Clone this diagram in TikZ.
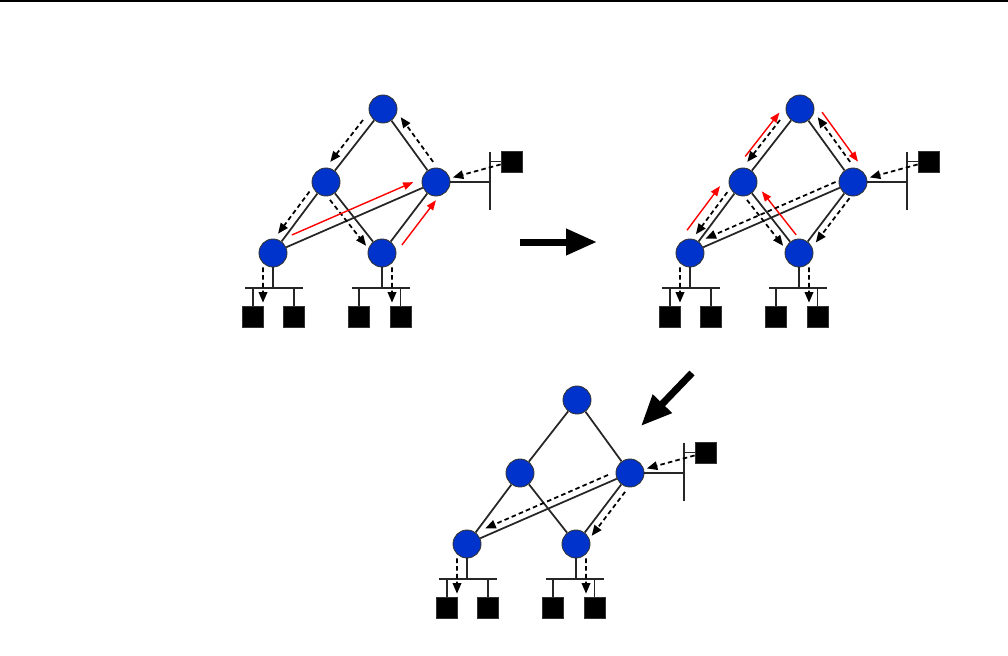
\documentclass[tikz,border=0pt]{standalone}
\usetikzlibrary{arrows.meta,calc}

\definecolor{routerblue}{RGB}{0,51,204}

\tikzset{
  router/.style={circle, draw=black!80, line width=0.5pt, fill=routerblue, minimum size=0.56cm, inner sep=0pt},
  host/.style={rectangle, draw=black!80, fill=black, minimum size=0.42cm, inner sep=0pt},
  link/.style={line width=1pt, draw=black!85},
  bus/.style={line width=1pt, draw=black!85},
  msg/.style={line width=1pt, dash pattern=on 2.6pt off 1.8pt, -{Triangle[length=2.1mm,width=1.7mm]}},
  redmsg/.style={line width=0.8pt, red, -{Triangle[length=2mm,width=1.5mm]}},
  beside/.style={to path={($(\tikztostart)!#1!-90:(\tikztotarget)$) -- ($(\tikztotarget)!#1!90:(\tikztostart)$)}},
  bigarrow/.style={line width=0.14cm, -{Triangle[length=0.62cm,width=0.5cm]}},
}

% one network: five routers, three LANs
\newcommand{\netpanel}[3]{%
\begin{scope}[shift={(#2,#3)}]
\node[router] (#1-top) at (383,109) {};
\node[router] (#1-ml) at (326,182) {};
\node[router] (#1-mr) at (436,182) {};
\node[router] (#1-bl) at (273,253) {};
\node[router] (#1-br) at (382,253) {};
\node[host] (#1-src) at (511.5,161.5) {};
\node[host] (#1-h1) at (253,316.5) {};
\node[host] (#1-h2) at (294,316.5) {};
\node[host] (#1-h3) at (359,316.5) {};
\node[host] (#1-h4) at (400.5,316.5) {};
\draw[link] (#1-top) -- (#1-ml);
\draw[link] (#1-top) -- (#1-mr);
\draw[link] (#1-ml) -- (#1-bl);
\draw[link] (#1-ml) -- (#1-br);
\draw[link] (#1-mr) -- (#1-bl);
\draw[link] (#1-mr) -- (#1-br);
% LANs
\coordinate (#1-tap) at (490,182);
\coordinate (#1-tapl) at (273,288);
\coordinate (#1-tapr) at (382,288);
\draw[bus] (490,152) -- (490,210);
\draw[bus] (245,288) -- (303,288);
\draw[bus] (352,288) -- (410,288);
\draw[link] (#1-mr) -- (#1-tap);
\draw[link] (#1-bl) -- (#1-tapl);
\draw[link] (#1-br) -- (#1-tapr);
\draw[bus] (#1-src.west) -- (#1-src.west -| #1-tap);
\foreach \h in {h1,h2,h3,h4} \draw[bus] (#1-\h) -- (#1-\h |- #1-tapl);
% source and receivers
\draw[msg, shorten >=0.06cm] (#1-src) -- (#1-mr);
\draw[msg, shorten >=0.06cm] ([xshift=-0.2cm]#1-bl.south) -- ([xshift=0.2cm]#1-h1.north);
\draw[msg, shorten >=0.06cm] ([xshift=0.2cm]#1-br.south) -- ([xshift=-0.17cm]#1-h4.north);
\end{scope}}

\begin{document}
\begin{tikzpicture}[x=0.02cm, y=-0.02cm]
\useasboundingbox (0,0) rectangle (1008,656);

\draw[line width=0.03cm] (0,0.75) -- (1008,0.75);

\netpanel{a}{0}{0}
\netpanel{b}{417}{0}
\netpanel{c}{194}{291}

% first state
\draw[msg, shorten <=0.42cm, shorten >=0.37cm] (a-top) to[beside=0.18cm] (a-ml);
\draw[msg, shorten <=0.36cm, shorten >=0.34cm] (a-mr) to[beside=0.19cm] (a-top);
\draw[msg, shorten <=0.35cm, shorten >=0.37cm] (a-ml) to[beside=0.15cm] (a-bl);
\draw[msg, shorten <=0.33cm, shorten >=0.31cm] (a-ml) to[beside=0.16cm] (a-br);
\draw[redmsg, shorten <=0.49cm, shorten >=0.42cm] (a-bl) to[beside=-0.18cm] (a-mr);
\draw[redmsg, shorten <=0.37cm, shorten >=0.29cm] (a-br) to[beside=0.22cm] (a-mr);

% second state
\draw[redmsg, shorten <=0.33cm, shorten >=0.34cm] (b-bl) to[beside=-0.32cm] (b-ml);
\draw[redmsg, shorten <=0.43cm, shorten >=0.31cm] (b-ml) to[beside=-0.28cm] (b-top);
\draw[redmsg, shorten <=0.31cm, shorten >=0.27cm] (b-top) to[beside=-0.32cm] (b-mr);
\draw[redmsg, shorten <=0.32cm, shorten >=0.38cm] (b-br) to[beside=0.18cm] (b-ml);
\draw[msg, shorten <=0.42cm, shorten >=0.37cm] (b-top) to[beside=0.18cm] (b-ml);
\draw[msg, shorten <=0.36cm, shorten >=0.34cm] (b-mr) to[beside=0.19cm] (b-top);
\draw[msg, shorten <=0.35cm, shorten >=0.37cm] (b-ml) to[beside=0.13cm] (b-bl);
\draw[msg, shorten <=0.33cm, shorten >=0.31cm] (b-ml) to[beside=0.16cm] (b-br);
\draw[msg, shorten <=0.32cm, shorten >=0.40cm] (b-mr) to[beside=0.14cm] (b-bl);
\draw[msg, shorten <=0.30cm, shorten >=0.37cm] (b-mr) to[beside=-0.14cm] (b-br);

% third state
\draw[msg, shorten <=0.42cm, shorten >=0.46cm] (c-mr) to[beside=0.14cm] (c-bl);
\draw[msg, shorten <=0.36cm, shorten >=0.32cm] (c-mr) to[beside=-0.15cm] (c-br);

% transitions
\coordinate (go1) at (520,242);
\coordinate (go1e) at (597,242);
\coordinate (go2) at (692,373);
\coordinate (go2e) at (641,426);
\draw[bigarrow] (go1) -- (go1e);
\draw[bigarrow] (go2) -- (go2e);

\end{tikzpicture}
\end{document}
